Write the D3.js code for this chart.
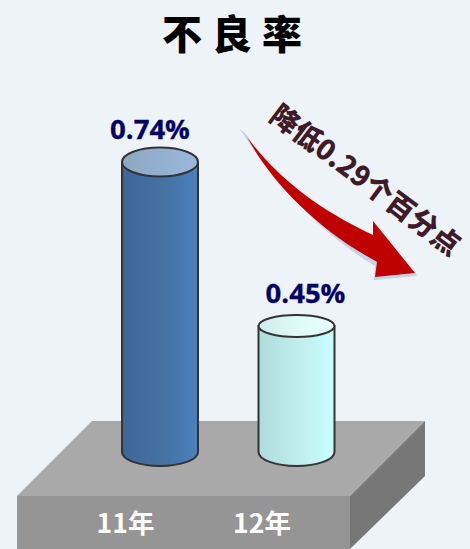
<!DOCTYPE html>
<html><head><meta charset="utf-8">
<script src="https://d3js.org/d3.v7.min.js"></script>
<style>html,body{margin:0;padding:0;background:#eef3f8;overflow:hidden}svg{display:block}
text{font-family:"Noto Sans CJK SC","Noto Sans",sans-serif}</style></head><body>
<svg id="c" width="470" height="549"></svg>
<script>
const categories = ["11年","12年"];
const values = [0.74,0.45];
const valueLabels = ["0.74%","0.45%"];
const titleText = "不良率";
const noteText = "降低0.29个百分点";

const svg = d3.select("#c");
svg.append("rect").attr("width",470).attr("height",549).attr("fill","#eef3f8");
const defs = svg.append("defs");
function grad(id,stops){
  const g = defs.append("linearGradient").attr("id",id).attr("x1",0).attr("x2",1).attr("y1",0).attr("y2",0);
  stops.forEach(s=>g.append("stop").attr("offset",s[0]).attr("stop-color",s[1]));
}
grad("b0",[[0,"#3d6698"],[0.45,"#44709f"],[1,"#4c7fbd"]]);
grad("b1",[[0,"#aedcdc"],[0.55,"#c0eeee"],[1,"#c8ffff"]]);
grad("t0",[[0,"#8ea7c2"],[1,"#9ab8dc"]]);
grad("t1",[[0,"#d0ecec"],[0.6,"#e2fafa"],[1,"#e6ffff"]]);
const fl = defs.append("filter").attr("id","soft").attr("x","-20%").attr("y","-20%").attr("width","140%").attr("height","140%");
fl.append("feGaussianBlur").attr("stdDeviation",0.6);

const x = d3.scalePoint().domain(categories).range([160,296.5]);
const y = d3.scaleLinear().domain([0.45,0.74]).range([326,162]);
const baseY = 452, rx = 38;
const ryTop = d3.scaleLinear().domain([0.45,0.74]).range([11,14.5]);
const labelDx = [-10,9];

// platform
const line = d3.line();
svg.append("path").attr("d",line([[92,421],[425,421],[350,496],[17,496]])+"Z").attr("fill","#a9a9a9");
svg.append("path").attr("d",line([[17,496],[350,496],[350,549],[17,549]])+"Z").attr("fill","#959595");
svg.append("path").attr("d",line([[350,496],[425,421],[425,476],[350,549]])+"Z").attr("fill","#777777");

// cylinders
categories.forEach((c,i)=>{
  const cx = x(c), top = y(values[i]), ry = ryTop(values[i]);
  const g = svg.append("g");
  g.append("path")
    .attr("d",`M${cx-rx},${top}L${cx-rx},${baseY}A${rx},14 0 0 0 ${cx+rx},${baseY}L${cx+rx},${top}Z`)
    .attr("fill",`url(#b${i})`).attr("stroke","#333").attr("stroke-width",2);
  g.append("ellipse").attr("cx",cx).attr("cy",top).attr("rx",rx).attr("ry",ry)
    .attr("fill",`url(#t${i})`).attr("stroke","#333").attr("stroke-width",2);
  svg.append("text").attr("x",cx+labelDx[i]).attr("y",top-23)
    .attr("text-anchor","middle").attr("font-size",27.5).attr("font-weight",700).attr("fill","#000066")
    .attr("stroke","#000066").attr("stroke-width",0.3)
    .style("font-family","'Open Sans'")
    .text(valueLabels[i]);
  svg.append("text").attr("x",cx-34.5).attr("y",533)
    .attr("text-anchor","middle").attr("font-size",26.5).attr("font-weight",700).attr("fill","#ffffff")
    .text(c);
});

// title
svg.append("text").attr("x",237).attr("y",49).attr("text-anchor","middle")
  .attr("font-size",40).attr("font-weight",900).attr("letter-spacing",10).attr("fill","#000").text(titleText);

// arrow
const arrow = "M247,137 C275,175 315,208 373,235 L373,221 L415,273 L375,277 L377,262 C315,228 270,180 247,137Z";
const arrowShade = "M239,128 C272,178 315,230 375,266 L374,280 L417,276 L415,271 L376,262 C315,226 270,176 247,135Z";
svg.append("path").attr("d",arrowShade).attr("fill","#c6d3e4").attr("filter","url(#soft)");
svg.append("path").attr("d",arrow).attr("fill","#c00000");

// note
svg.append("text").attr("transform","translate(364,182) rotate(37)")
  .attr("text-anchor","middle").attr("dominant-baseline","middle")
  .attr("font-size",28).attr("font-weight",900).attr("fill","#3f1a28").text(noteText);
</script></body></html>
